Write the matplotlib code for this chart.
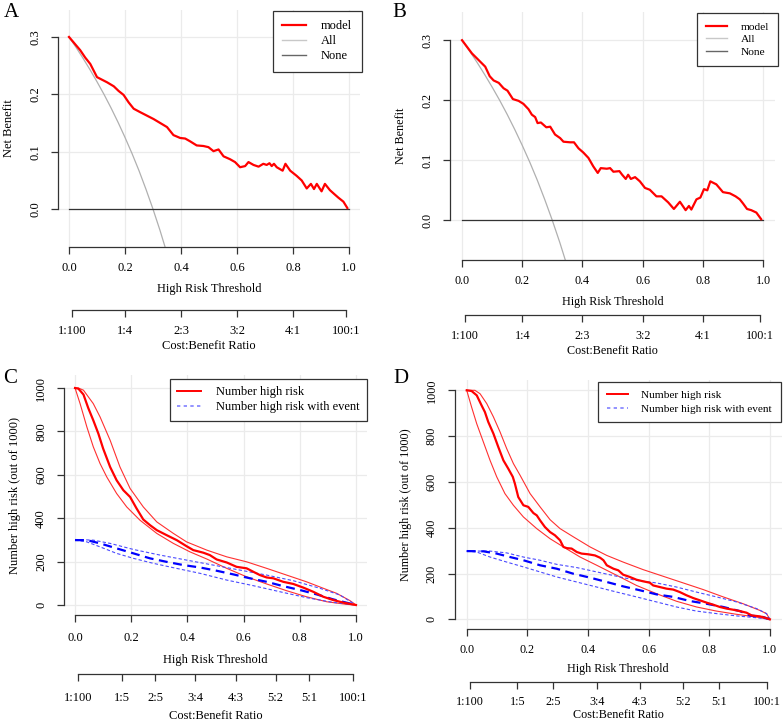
import numpy as np
import matplotlib.pyplot as plt
from matplotlib.lines import Line2D

plt.rcParams['font.family'] = ['Liberation Serif', 'DejaVu Serif']
plt.rcParams['font.size'] = 9

# ---- panel A: decision curve ----
thr_a = [0, 0.04, 0.058, 0.076, 0.10, 0.136, 0.16, 0.177, 0.195, 0.213, 0.231, 0.254, 0.278,
         0.302, 0.326, 0.35, 0.373, 0.397, 0.415, 0.433, 0.456, 0.48, 0.498, 0.516, 0.534,
         0.552, 0.575, 0.593, 0.611, 0.629, 0.641, 0.659, 0.677, 0.694, 0.706, 0.716, 0.724,
         0.732, 0.742, 0.763, 0.773, 0.79, 0.813, 0.831, 0.849, 0.864, 0.875, 0.885, 0.902,
         0.914, 0.932, 0.948, 0.962, 0.98, 0.994]
nb_a = [0.300, 0.277, 0.264, 0.253, 0.230, 0.221, 0.214, 0.206, 0.199, 0.186, 0.175, 0.169, 0.163,
        0.157, 0.150, 0.143, 0.129, 0.124, 0.123, 0.118, 0.111, 0.110, 0.108, 0.101, 0.104,
        0.092, 0.087, 0.082, 0.073, 0.075, 0.082, 0.077, 0.074, 0.079, 0.077, 0.080, 0.075,
        0.079, 0.073, 0.067, 0.079, 0.067, 0.058, 0.050, 0.036, 0.044, 0.035, 0.044, 0.031,
        0.044, 0.033, 0.026, 0.020, 0.013, 0.002]

# ---- panel B: decision curve ----
thr_b = [0, 0.033, 0.061, 0.077, 0.092, 0.105, 0.122, 0.138, 0.151, 0.169, 0.188, 0.204, 0.221,
         0.232, 0.243, 0.251, 0.262, 0.280, 0.293, 0.309, 0.326, 0.337, 0.359, 0.372, 0.387,
         0.403, 0.420, 0.436, 0.451, 0.461, 0.481, 0.492, 0.503, 0.523, 0.532, 0.544, 0.552,
         0.561, 0.575, 0.591, 0.608, 0.624, 0.646, 0.663, 0.685, 0.704, 0.724, 0.743, 0.754,
         0.762, 0.779, 0.792, 0.804, 0.815, 0.825, 0.845, 0.867, 0.890, 0.909, 0.923, 0.934,
         0.947, 0.961, 0.978, 0.994]
nb_b = [0.300, 0.278, 0.264, 0.256, 0.240, 0.233, 0.229, 0.220, 0.216, 0.202, 0.199, 0.194, 0.185,
        0.176, 0.172, 0.162, 0.163, 0.155, 0.156, 0.143, 0.137, 0.131, 0.130, 0.130, 0.120,
        0.113, 0.104, 0.090, 0.079, 0.087, 0.086, 0.087, 0.081, 0.082, 0.076, 0.069, 0.076,
        0.069, 0.072, 0.065, 0.054, 0.051, 0.040, 0.040, 0.030, 0.019, 0.031, 0.017, 0.024,
        0.018, 0.035, 0.038, 0.052, 0.050, 0.065, 0.060, 0.047, 0.045, 0.040, 0.035, 0.028,
        0.019, 0.017, 0.013, 0.002]

# treat-all reference (prevalence 0.3)
thr_all = [0, 0.025, 0.05, 0.075, 0.1, 0.125, 0.15, 0.175, 0.2, 0.225, 0.25, 0.275, 0.3, 0.325, 0.35]
nb_all = [0.300, 0.282, 0.263, 0.243, 0.222, 0.200, 0.1765, 0.1515, 0.125, 0.097, 0.067, 0.0345,
          0.0, -0.037, -0.077]
thr_none = [0, 1]
nb_none = [0, 0]

# ---- panel C: clinical impact ----
c_hr_t = [0, 0.012, 0.03, 0.047, 0.065, 0.083, 0.10, 0.125, 0.148, 0.172, 0.196, 0.219, 0.243,
          0.267, 0.291, 0.326, 0.362, 0.397, 0.421, 0.457, 0.48, 0.504, 0.54, 0.575, 0.611,
          0.635, 0.658, 0.682, 0.706, 0.741, 0.777, 0.813, 0.848, 0.884, 0.919, 0.955, 1.0]
c_hr = [1000, 997, 970, 908, 851, 790, 721, 636, 575, 529, 498, 445, 394, 368, 345, 322, 299,
        271, 253, 241, 230, 210, 196, 176, 169, 153, 138, 127, 123, 107, 97, 80, 61, 38, 23, 11, 0]
c_hr_hi_t = [0, 0.012, 0.03, 0.065, 0.089, 0.125, 0.16, 0.196, 0.243, 0.291, 0.35, 0.397, 0.469,
             0.54, 0.611, 0.682, 0.753, 0.824, 0.884, 0.931, 0.979, 1.0]
c_hr_hi = [1000, 1000, 990, 928, 867, 759, 636, 537, 452, 383, 330, 291, 253, 222, 199, 169, 138,
           107, 77, 54, 20, 0]
c_hr_lo_t = [0, 0.018, 0.042, 0.065, 0.089, 0.113, 0.148, 0.184, 0.231, 0.291, 0.35, 0.409,
             0.469, 0.54, 0.611, 0.682, 0.753, 0.824, 0.896, 0.967, 1.0]
c_hr_lo = [1000, 928, 821, 729, 652, 590, 514, 452, 391, 330, 284, 245, 212, 169, 130, 97, 66, 38,
           15, 3, 0]
c_ev_t = [0, 0.042, 0.089, 0.148, 0.208, 0.267, 0.326, 0.386, 0.445, 0.504, 0.564, 0.623, 0.682,
          0.741, 0.801, 0.86, 0.919, 1.0]
c_ev = [299, 299, 284, 261, 238, 215, 199, 184, 173, 158, 141, 123, 107, 87, 69, 49, 26, 0]
c_ev_hi_t = [0, 0.065, 0.125, 0.208, 0.303, 0.397, 0.492, 0.587, 0.682, 0.777, 0.872, 0.943, 1.0]
c_ev_hi = [302, 299, 284, 256, 230, 207, 184, 161, 138, 112, 77, 46, 0]
c_ev_lo_t = [0, 0.042, 0.089, 0.148, 0.208, 0.279, 0.35, 0.445, 0.54, 0.635, 0.73, 0.824, 0.919, 1.0]
c_ev_lo = [299, 291, 268, 238, 215, 192, 172, 146, 115, 89, 61, 34, 12, 0]

# ---- panel D: clinical impact ----
d_hr_t = [0, 0.016, 0.033, 0.049, 0.06, 0.071, 0.088, 0.104, 0.121, 0.137, 0.152, 0.159, 0.17,
          0.187, 0.203, 0.22, 0.231, 0.242, 0.258, 0.275, 0.291, 0.308, 0.319, 0.33, 0.346,
          0.363, 0.379, 0.401, 0.423, 0.44, 0.451, 0.462, 0.484, 0.5, 0.516, 0.538, 0.56,
          0.582, 0.604, 0.615, 0.637, 0.659, 0.681, 0.703, 0.725, 0.747, 0.769, 0.791, 0.813,
          0.835, 0.857, 0.879, 0.901, 0.923, 0.94, 0.967, 0.984, 1.0]
d_hr = [1000, 997, 978, 934, 905, 862, 811, 753, 694, 658, 622, 592, 534, 498, 491, 464, 454, 432,
        403, 381, 367, 345, 316, 311, 309, 294, 287, 284, 279, 269, 258, 236, 221, 214, 195, 185,
        173, 166, 160, 148, 141, 134, 130, 119, 105, 93, 83, 73, 64, 54, 47, 42, 36, 29, 17, 13,
        7, 0]
d_hr_hi_t = [0, 0.027, 0.044, 0.066, 0.088, 0.11, 0.132, 0.154, 0.176, 0.209, 0.242, 0.275,
             0.308, 0.352, 0.407, 0.462, 0.516, 0.582, 0.648, 0.714, 0.78, 0.846, 0.912, 0.967,
             0.989, 1.0]
d_hr_hi = [1000, 1000, 985, 942, 884, 818, 745, 680, 629, 549, 491, 435, 396, 360, 316, 279, 250,
           217, 188, 159, 130, 98, 68, 39, 25, 0]
d_hr_lo_t = [0, 0.016, 0.033, 0.055, 0.077, 0.099, 0.126, 0.154, 0.187, 0.231, 0.275, 0.319,
             0.374, 0.429, 0.495, 0.56, 0.626, 0.692, 0.758, 0.824, 0.89, 0.956, 1.0]
d_hr_lo = [1000, 927, 854, 774, 694, 622, 549, 498, 447, 396, 352, 316, 272, 236, 192, 148, 112,
           79, 54, 36, 22, 10, 0]
d_ev_t = [0, 0.055, 0.099, 0.143, 0.187, 0.242, 0.297, 0.352, 0.407, 0.462, 0.516, 0.571, 0.626,
          0.681, 0.736, 0.791, 0.846, 0.901, 0.934, 0.978, 1.0]
d_ev = [298, 297, 287, 272, 258, 236, 221, 199, 182, 163, 144, 127, 109, 98, 80, 68, 54, 36, 17,
        10, 0]
d_ev_hi_t = [0, 0.077, 0.132, 0.187, 0.242, 0.297, 0.363, 0.429, 0.495, 0.56, 0.626, 0.692,
             0.758, 0.824, 0.89, 0.956, 0.989, 1.0]
d_ev_hi = [298, 298, 290, 272, 258, 240, 226, 207, 188, 170, 159, 141, 119, 98, 76, 47, 25, 0]
d_ev_lo_t = [0, 0.033, 0.077, 0.132, 0.187, 0.242, 0.297, 0.363, 0.429, 0.495, 0.56, 0.626,
             0.692, 0.758, 0.824, 0.89, 0.956, 1.0]
d_ev_lo = [298, 294, 272, 250, 229, 207, 185, 163, 141, 119, 98, 76, 54, 36, 25, 15, 7, 0]

cb_labels_ab = ['1:100', '1:4', '2:3', '3:2', '4:1', '100:1']
cb_labels_cd = ['1:100', '1:5', '2:5', '3:4', '4:3', '5:2', '5:1', '100:1']

W, H = 783, 723
fig = plt.figure(figsize=(W / 100, H / 100), dpi=100)

GRID = '#ebebeb'
AXC = '#333333'


def px_axes(left, top, right, bottom):
    return fig.add_axes([left / W, 1 - bottom / H, (right - left) / W, (bottom - top) / H])


def r_style(ax, ylim, yticks, yfmt, fs, xpad, xlpad):
    ax.set_xlim(-0.04, 1.04)
    ax.set_ylim(*ylim)
    for s in ['top', 'right']:
        ax.spines[s].set_visible(False)
    ax.spines['left'].set_bounds(yticks[0], yticks[-1])
    ax.spines['bottom'].set_bounds(0, 1)
    for s in ['left', 'bottom']:
        ax.spines[s].set_color(AXC)
        ax.spines[s].set_linewidth(0.9)
    ax.set_xticks(np.arange(0, 1.01, 0.2))
    ax.set_xticklabels(['%.1f' % v for v in np.arange(0, 1.01, 0.2)])
    ax.set_yticks(yticks)
    ax.set_yticklabels([yfmt % v for v in yticks], rotation=90, va='center')
    ax.tick_params(length=5, width=0.9, color=AXC, labelsize=fs, pad=xpad)
    ax.tick_params(axis='y', pad=7)
    ax.grid(True, color=GRID, lw=0.9)
    ax.set_axisbelow(True)
    ax.set_facecolor('none')
    ax.set_xlabel('High Risk Threshold', fontsize=fs, labelpad=xlpad)


def cb_axis(left, right, y, labels, fs, pad, lpad):
    cax = fig.add_axes([left / W, 1 - y / H, (right - left) / W, 0.001])
    cax.set_xlim(-0.04, 1.04)
    pos = []
    for lab in labels:
        c, b = lab.split(':')
        pos.append(float(c) / (float(c) + float(b)))
    cax.set_xticks(pos)
    cax.set_xticklabels(labels)
    cax.set_yticks([])
    for s in ['top', 'right', 'left']:
        cax.spines[s].set_visible(False)
    cax.spines['bottom'].set_bounds(pos[0], pos[-1])
    cax.spines['bottom'].set_color(AXC)
    cax.spines['bottom'].set_linewidth(0.9)
    cax.tick_params(length=5, width=0.9, color=AXC, labelsize=fs, pad=pad)
    cax.patch.set_visible(False)
    cax.set_xlabel('Cost:Benefit Ratio', fontsize=fs, labelpad=lpad)


def dca_panel(rect, thr, nb, cb_y, legend_px, letter, letter_xy, fs, legfs):
    ax = px_axes(*rect)
    r_style(ax, (-0.066, 0.347), [0.0, 0.1, 0.2, 0.3], '%.1f', fs, 6, 6.5)
    ax.plot(thr_all, nb_all, color='#b0b0b0', lw=0.9)
    ax.plot(thr_none, nb_none, color='#333333', lw=0.9)
    ax.plot(thr, nb, color='#ff0000', lw=1.6)
    ax.set_ylabel('Net Benefit', fontsize=fs, labelpad=10)
    handles = [Line2D([], [], color='#ff0000', lw=1.6),
               Line2D([], [], color='#c8c8c8', lw=1.0),
               Line2D([], [], color='#666666', lw=1.0)]
    leg = ax.legend(handles, ['model', 'All', 'None'], loc='upper right',
                    bbox_to_anchor=(legend_px[0] / W, 1 - legend_px[1] / H),
                    bbox_transform=fig.transFigure, borderaxespad=0, frameon=True,
                    fancybox=False, edgecolor='#333333', framealpha=1, fontsize=legfs,
                    handlelength=1.9, handletextpad=1.2, labelspacing=0.25, borderpad=0.75)
    leg.get_frame().set_linewidth(0.9)
    cb_axis(rect[0], rect[2], cb_y, cb_labels_ab, fs, 6, 2)
    fig.text(letter_xy[0] / W, 1 - letter_xy[1] / H, letter, fontsize=15, va='top', ha='left')


def impact_panel(rect, series, cb_y, legend_px, letter, letter_xy, fs, legfs, pads):
    ax = px_axes(*rect)
    r_style(ax, series['ylim'], [0, 200, 400, 600, 800, 1000], '%d', fs, pads[0], pads[1])
    hr_t, hr, hi_t, hi, lo_t, lo, ev_t, ev, evh_t, evh, evl_t, evl = series['data']
    ax.plot(hi_t, hi, color='#ff3030', lw=0.8)
    ax.plot(lo_t, lo, color='#ff3030', lw=0.8)
    ax.plot(evh_t, evh, color='#4a4aff', lw=0.8, ls=(0, (3, 2)))
    ax.plot(evl_t, evl, color='#4a4aff', lw=0.8, ls=(0, (3, 2)))
    ax.plot(ev_t, ev, color='#0000ff', lw=1.6, ls=(0, (4, 2.5)))
    ax.plot(hr_t, hr, color='#ff0000', lw=1.6)
    ax.set_ylabel('Number high risk (out of 1000)', fontsize=fs, labelpad=10)
    handles = [Line2D([], [], color='#ff0000', lw=1.4),
               Line2D([], [], color='#8080ff', lw=1.2, ls=(0, (2, 2)))]
    leg = ax.legend(handles, ['Number high risk', 'Number high risk with event'],
                    loc='upper right',
                    bbox_to_anchor=(legend_px[0] / W, 1 - legend_px[1] / H),
                    bbox_transform=fig.transFigure, borderaxespad=0, frameon=True,
                    fancybox=False, edgecolor='#333333', framealpha=1, fontsize=legfs,
                    handlelength=1.9, handletextpad=1.2, labelspacing=pads[4],
                    borderpad=pads[5])
    leg.get_frame().set_linewidth(0.9)
    cb_axis(rect[0], rect[2], cb_y, cb_labels_cd, fs, pads[2], pads[3])
    fig.text(letter_xy[0] / W, 1 - letter_xy[1] / H, letter, fontsize=15, va='top', ha='left')


dca_panel((57.8, 10, 360.2, 247), thr_a, nb_a, 310, (361.5, 10.5), 'A', (4, 3), 9, 9)
dca_panel((450, 12, 775, 260), thr_b, nb_b, 315, (778, 13), 'B', (392, 3), 8.7, 8.2)

impact_panel((63.8, 375, 367.2, 615),
             {'ylim': (-46, 1060),
              'data': (c_hr_t, c_hr, c_hr_hi_t, c_hr_hi, c_hr_lo_t, c_hr_lo,
                       c_ev_t, c_ev, c_ev_hi_t, c_ev_hi, c_ev_lo_t, c_ev_lo)},
             674, (367, 379), 'C', (3, 369), 9, 9, (7, 7.5, 8, 4, 0.2, 0.6))
impact_panel((454.6, 380, 782, 628.5),
             {'ylim': (-40, 1045),
              'data': (d_hr_t, d_hr, d_hr_hi_t, d_hr_hi, d_hr_lo_t, d_hr_lo,
                       d_ev_t, d_ev, d_ev_hi_t, d_ev_hi, d_ev_lo_t, d_ev_lo)},
             682, (780.5, 381.5), 'D', (393, 369), 8.7, 8.1, (6, 5.5, 5, 0.5, 0.35, 0.75))

fig.savefig('out.png', dpi=100)
